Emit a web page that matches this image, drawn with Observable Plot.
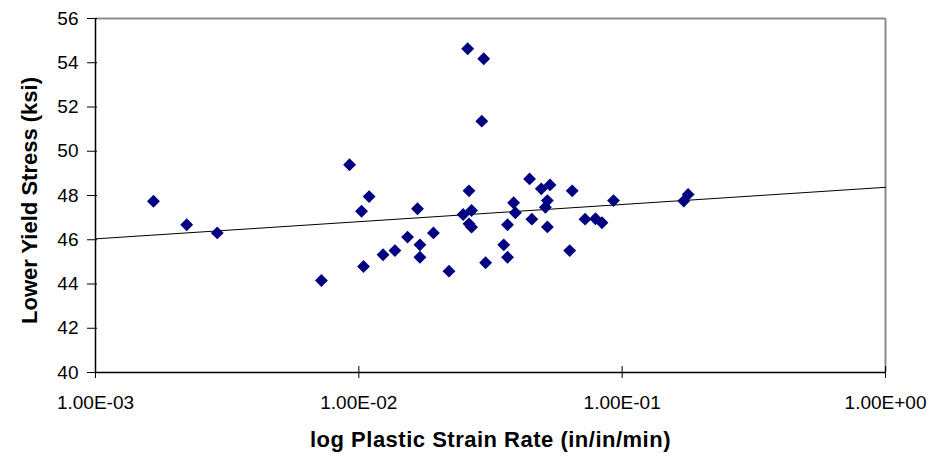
<!DOCTYPE html>
<html>
<head>
<meta charset="utf-8">
<script src="https://cdn.jsdelivr.net/npm/d3@7"></script>
<script src="https://cdn.jsdelivr.net/npm/@observablehq/plot@0.6"></script>
<style>
  html, body { margin: 0; padding: 0; background: #fff; }
</style>
</head>
<body>
<div id="chart"></div>
<script>
// Plastic strain rate (in/in/min)
const strainRate = [
  0.00166, 0.00222, 0.00290, 0.00721, 0.00922, 0.01094, 0.01024, 0.01042, 0.01236,
  0.01371, 0.01531, 0.0167, 0.01706, 0.01706, 0.0192, 0.0220,
  0.0259, 0.0298, 0.0293, 0.0262, 0.0249, 0.0268, 0.0262, 0.0268, 0.0303,
  0.0367, 0.0387, 0.0393, 0.0355, 0.0367,
  0.0445, 0.0454, 0.0493, 0.0532, 0.0520, 0.0511, 0.0520,
  0.0632, 0.0646, 0.0723, 0.0792, 0.0838, 0.0927,
  0.1714, 0.178
];
// Lower yield stress (ksi)
const yieldStress = [
  47.74, 46.68, 46.31, 44.16, 49.39, 47.95, 47.29, 44.79, 45.32,
  45.51, 46.12, 47.40, 45.77, 45.21, 46.31, 44.58,
  54.63, 54.18, 51.36, 48.21, 47.14, 47.32, 46.72, 46.57, 44.96,
  46.68, 47.67, 47.22, 45.77, 45.21,
  48.75, 46.93, 48.30, 48.48, 47.77, 47.47, 46.58,
  45.51, 48.21, 46.93, 46.95, 46.77, 47.77,
  47.75, 48.05
];
// Logarithmic trend line endpoints
const trendX = [0.001, 1];
const trendY = [46.04, 48.37];

const xTicks = [0.001, 0.01, 0.1, 1];
const xTickLabels = ["1.00E-03", "1.00E-02", "1.00E-01", "1.00E+00"];
const yTicks = [40, 42, 44, 46, 48, 50, 52, 54, 56];
const xTitle = "log Plastic Strain Rate (in/in/min)";
const yTitle = "Lower Yield Stress (ksi)";

const points = strainRate.map((x, i) => ({x, y: yieldStress[i]}));
const trend = trendX.map((x, i) => ({x, y: trendY[i]}));

const chart = Plot.plot({
  width: 935,
  height: 462,
  marginLeft: 95,
  marginRight: 50,
  marginTop: 18,
  marginBottom: 90,
  style: {fontFamily: "'Liberation Sans', Arial, sans-serif", fontSize: "19px", color: "#000", background: "#fff"},
  x: {type: "log", domain: [0.001, 1]},
  y: {domain: [40, 56]},
  marks: [
    Plot.ruleY([56], {stroke: "#8c8c8c", strokeWidth: 2}),
    Plot.ruleX([1], {stroke: "#8c8c8c", strokeWidth: 2}),
    Plot.ruleY([40], {stroke: "#000", strokeWidth: 1.5}),
    Plot.ruleX([0.001], {stroke: "#000", strokeWidth: 1.5}),
    Plot.axisX({ticks: xTicks, tickSize: 12, dy: -6, tickPadding: 17, label: null,
      tickFormat: d => xTickLabels[xTicks.indexOf(d)]}),
    Plot.axisY({ticks: yTicks, tickSize: 10, dx: 2, tickPadding: 9, label: null}),
    Plot.line(trend, {x: "x", y: "y", stroke: "#000", strokeWidth: 1}),
    Plot.dot(points, {x: "x", y: "y", symbol: "diamond2", r: 5.8, fill: "#000080", stroke: "none"}),
    Plot.text([xTitle], {text: d => d, frameAnchor: "bottom", dy: 74, fontSize: 22, fontWeight: "bold"}),
    Plot.text([yTitle], {text: d => d, frameAnchor: "left", textAnchor: "middle", dx: -66, dy: 5, rotate: -90, fontSize: 22, fontWeight: "bold"})
  ]
});
d3.select(chart).selectAll("text")
  .filter(function() { return this.textContent === xTitle; })
  .style("letter-spacing", "0.5px");
document.getElementById("chart").appendChild(chart);
</script>
</body>
</html>
